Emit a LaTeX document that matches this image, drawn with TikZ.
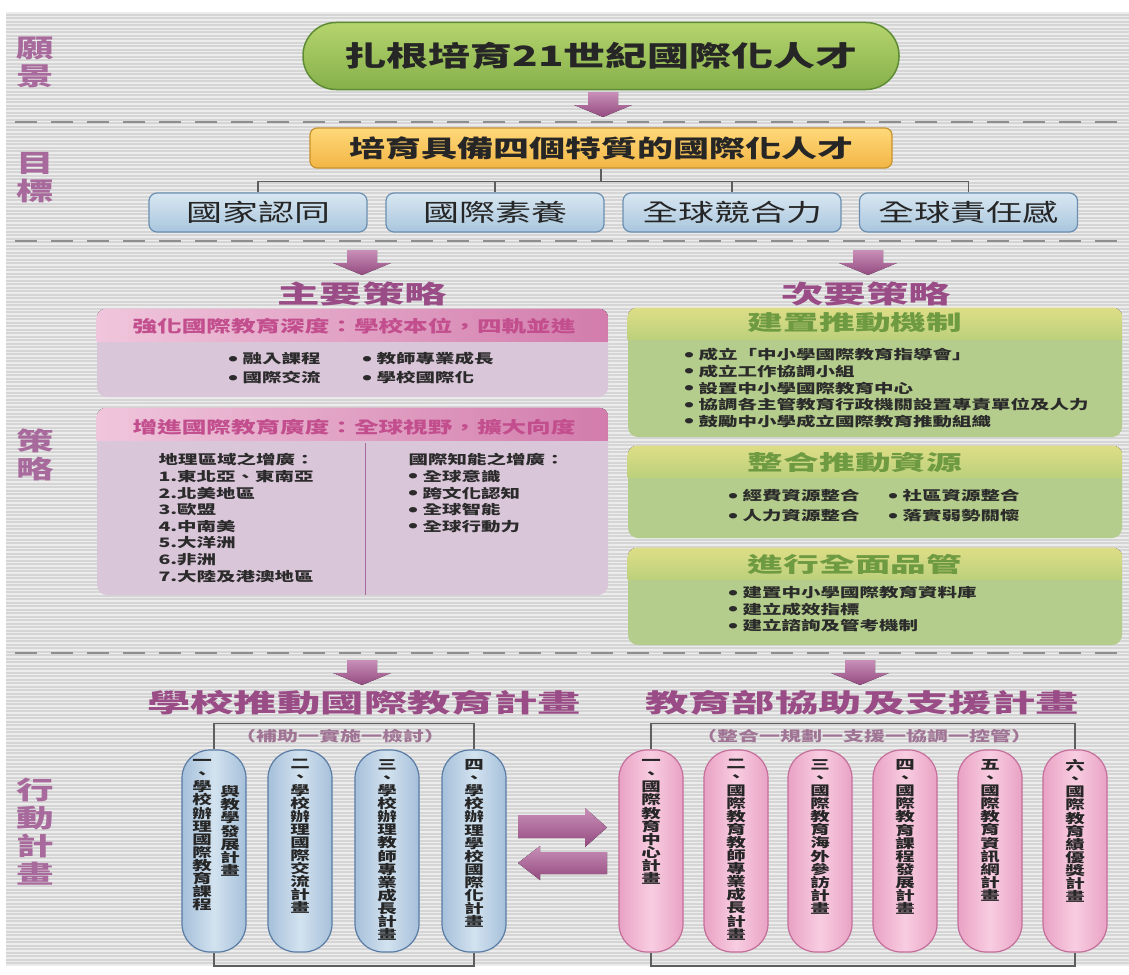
\documentclass[tikz,border=0pt]{standalone}
\usepackage{fontspec}
\setmainfont[FakeStretch=1.5]{Noto Sans CJK TC}
\newfontfamily\titlefont[FakeStretch=1.7]{Noto Sans CJK TC}
\usetikzlibrary{positioning}

\definecolor{bggray}{HTML}{D5D5D5}
\definecolor{sepgray}{HTML}{8E8E8E}
\definecolor{labelpurple}{HTML}{A86A9C}
\definecolor{titlepurple}{HTML}{9A4C86}
\definecolor{pilltop}{HTML}{B5D46E}
\definecolor{pillbot}{HTML}{86B04A}
\definecolor{pillline}{HTML}{5E8C34}
\definecolor{aimtop}{HTML}{FFD97A}
\definecolor{aimbot}{HTML}{F2B544}
\definecolor{aimline}{HTML}{C8922E}
\definecolor{traittop}{HTML}{D8E7F2}
\definecolor{traitbot}{HTML}{A9C6DD}
\definecolor{traitline}{HTML}{6B8FB0}
\definecolor{treegray}{HTML}{5E5E5E}
\definecolor{arrtop}{HTML}{C890B8}
\definecolor{arrbot}{HTML}{944A80}
\definecolor{pinkbody}{HTML}{DAC6D9}
\definecolor{pinkheadL}{HTML}{F0C6DC}
\definecolor{pinkheadR}{HTML}{D27CAC}
\definecolor{pinkink}{HTML}{C24E8E}
\definecolor{greenbody}{HTML}{B4CC8C}
\definecolor{greenheadtop}{HTML}{DEDE86}
\definecolor{greenheadbot}{HTML}{BCD07C}
\definecolor{greenink}{HTML}{6E9A42}
\definecolor{bodyink}{HTML}{2B2B2B}
\definecolor{capblue}{HTML}{A6C0DA}
\definecolor{capbluelight}{HTML}{D2E2EF}
\definecolor{capblueline}{HTML}{5A7CA4}
\definecolor{cappink}{HTML}{E9A2C4}
\definecolor{cappinklight}{HTML}{F8CDE1}
\definecolor{cappinkline}{HTML}{C46E9A}
\definecolor{bracketink}{HTML}{A07494}

\newcommand\bul{\raisebox{2.6pt}{\fontsize{6}{6}\selectfont●}\hspace{5pt}}

\tikzset{
  sidelabel/.style={text=labelpurple, font=\fontsize{25}{28}\selectfont\bfseries, align=center, inner sep=0pt},
  sepline/.style={draw=sepgray, line width=2.5pt, dash pattern=on 22pt off 14pt},
  visionpill/.style={draw=pillline, line width=1.5pt, rounded corners=33pt, top color=pilltop, bottom color=pillbot,
    minimum width=596pt, minimum height=67pt, font=\fontsize{28}{28}\selectfont\bfseries, text=black!85},
  aimbox/.style={draw=aimline, line width=1.2pt, rounded corners=7pt, top color=aimtop, bottom color=aimbot,
    minimum width=582pt, minimum height=40pt, font=\fontsize{24}{24}\selectfont\bfseries, text=black!85},
  traitbox/.style={draw=traitline, line width=1.2pt, rounded corners=8pt, top color=traittop, bottom color=traitbot,
    minimum width=218pt, minimum height=39pt, font=\fontsize{24}{24}\selectfont, text=black!85},
  tree/.style={draw=treegray, line width=1.6pt},
  stratitle/.style={text=titlepurple, font=\titlefont\fontsize{25}{25}\selectfont\bfseries, inner sep=0pt},
  plantitle/.style={text=titlepurple, font=\titlefont\fontsize{25.5}{25.5}\selectfont\bfseries, inner sep=0pt},
  pinkbox/.style={fill=pinkbody, rounded corners=10pt, minimum width=511pt},
  greenbox/.style={fill=greenbody, rounded corners=10pt, minimum width=494pt},
  pinkhead/.style={text=pinkink, font=\fontsize{16.4}{16.4}\selectfont\bfseries, inner sep=0pt},
  greenhead/.style={text=greenink, font=\titlefont\fontsize{21}{21}\selectfont\bfseries, inner sep=0pt},
  bodylist/.style={text=bodyink, font=\fontsize{13}{16.6}\selectfont\bfseries, align=left, inner sep=0pt, anchor=north west},
  bluecap/.style={draw=capblueline, line width=1.2pt, rounded corners=28pt, left color=capblue, right color=capblue,
    middle color=capbluelight, minimum width=64pt, minimum height=202pt},
  pinkcap/.style={draw=cappinkline, line width=1.2pt, rounded corners=28pt, left color=cappink, right color=cappink,
    middle color=cappinklight, minimum width=64pt, minimum height=202pt},
  captext/.style={text=black!85, font=\fontsize{13}{13.1}\selectfont\bfseries, align=center, inner sep=0pt, anchor=north},
  bracket/.style={draw=treegray, line width=1.8pt},
  bracketnote/.style={text=bracketink, font=\fontsize{14}{14}\selectfont\bfseries, inner sep=0pt},
  downarr/.pic={\fill[top color=arrtop, bottom color=arrbot] (-15,0) -- (15,0) -- (15,13) -- (29,13) -- (0,25) -- (-29,13) -- (-15,13) -- cycle;}
}

\begin{document}
\begin{tikzpicture}[x=1pt, y=-1pt, line width=1pt]
\useasboundingbox (0,0) rectangle (1129,974);
\fill[white] (0,0) rectangle (1129,974);
\fill[bggray] (6,12) rectangle (1129,966);
\foreach \yy in {13,16.5,...,965}
  \draw[white, line width=1.1pt, opacity=0.55] (6,\yy) -- (1129,\yy);

% side labels
\node[sidelabel] (lvision) at (35,62) {願\\景};
\node[sidelabel] (laim) at (35,178) {目\\標};
\node[sidelabel] (lstrat) at (35,455) {策\\略};
\node[sidelabel] (lplan) at (35,832) {行\\動\\計\\畫};

% separators
\draw[sepline] (15,122) -- (1129,122);
\draw[sepline] (15,241) -- (1129,241);
\draw[sepline] (15,653) -- (1129,653);

% vision and aim
\node[visionpill] (vision) at (601,56) {扎根培育21世紀國際化人才};
\pic at (603,92) {downarr};
\node[aimbox] (aim) at (601,148) {培育具備四個特質的國際化人才};

\node[traitbox] (t1) at (258,212.5) {國家認同};
\node[traitbox] (t2) at (495,212.5) {國際素養};
\node[traitbox] (t3) at (732,212.5) {全球競合力};
\node[traitbox] (t4) at (968.5,212.5) {全球責任感};

\draw[tree] (aim.south) -- ++(0,13) coordinate (hub);
\draw[tree] (t1.north) |- (hub) -| (t4.north);
\draw[tree] (t2.north) -- (t2.north |- hub);
\draw[tree] (t3.north) -- (t3.north |- hub);

% strategies
\pic at (362,250) {downarr};
\pic at (868,250) {downarr};
\node[stratitle] (mainstrat) at (362,294) {主要策略};
\node[stratitle] (substrat) at (866,294) {次要策略};

\node[pinkbox, minimum height=88pt] (deep) at (352.5,353) {};
\node[pinkbox, minimum height=187pt] (wide) at (352.5,501.5) {};
\node[greenbox, minimum height=129pt] (mech) at (875,372.5) {};
\node[greenbox, minimum height=92pt] (res) at (875,492) {};
\node[greenbox, minimum height=97pt] (qual) at (875,596.5) {};

\foreach \b in {deep,wide}{
  \begin{scope}
    \clip[rounded corners=10pt] (\b.north west) rectangle (\b.south east);
    \fill[left color=pinkheadL, right color=pinkheadR] (\b.north west) rectangle ([yshift=-33pt]\b.north east);
  \end{scope}
}
\foreach \b in {mech,res,qual}{
  \begin{scope}
    \clip[rounded corners=10pt] (\b.north west) rectangle (\b.south east);
    \fill[top color=greenheadtop, bottom color=greenheadbot] (\b.north west) rectangle ([yshift=-32pt]\b.north east);
  \end{scope}
}

\node[pinkhead] (deephead) at (354,326) {強化國際教育深度：學校本位，四軌並進};
\node[bodylist] (deepa) at (228,352) {\bul 融入課程\\[2.4pt]\bul 國際交流};
\node[bodylist] (deepb) at (362,352) {\bul 教師專業成長\\[2.4pt]\bul 學校國際化};

\node[pinkhead] (widehead) at (354,427) {增進國際教育廣度：全球視野，擴大向度};
\draw[draw=labelpurple, line width=1pt] (365,443) -- (365,595);
\node[bodylist] (widea) at (158,453) {地理區域之增廣：\\1.東北亞、東南亞\\2.北美地區\\3.歐盟\\4.中南美\\5.大洋洲\\6.非洲\\7.大陸及港澳地區};
\node[bodylist] (wideb) at (408,453) {國際知能之增廣：\\\bul 全球意識\\\bul 跨文化認知\\\bul 全球智能\\\bul 全球行動力};

\node[greenhead] (mechhead) at (855,323) {建置推動機制};
\node[bodylist] (mecha) at (684,348) {\bul 成立「中小學國際教育指導會」\\\bul 成立工作協調小組\\\bul 設置中小學國際教育中心\\\bul 協調各主管教育行政機關設置專責單位及人力\\\bul 鼓勵中小學成立國際教育推動組織};

\node[greenhead] (reshead) at (855,463) {整合推動資源};
\node[bodylist] (resa) at (728,489) {\bul 經費資源整合\\[3.4pt]\bul 人力資源整合};
\node[bodylist] (resb) at (888,489) {\bul 社區資源整合\\[3.4pt]\bul 落實弱勢關懷};

\node[greenhead] (qualhead) at (855,564) {進行全面品管};
\node[bodylist] (quala) at (728,586) {\bul 建置中小學國際教育資料庫\\\bul 建立成效指標\\\bul 建立諮詢及管考機制};

% action plans
\pic at (362,660) {downarr};
\pic at (860,660) {downarr};
\node[plantitle] (schoolplan) at (364,703) {學校推動國際教育計畫};
\node[plantitle] (moeplan) at (862,703) {教育部協助及支援計畫};

\foreach \i/\cx in {1/214,2/300,3/387,4/474}
  \node[bluecap] (s\i) at (\cx,851) {};
\foreach \i/\cx in {1/651,2/736,3/820,4/905,5/990,6/1075}
  \node[pinkcap] (m\i) at (\cx,851) {};

\draw[bracket] (s1.north) -- ++(0,-26) -| (s4.north);
\draw[bracket] (s1.south) -- ++(0,13) -| (s4.south);
\draw[bracket] (m1.north) -- ++(0,-26) -| (m6.north);
\draw[bracket] (m1.south) -- ++(0,13) -| (m6.south);
\node[bracketnote] (schoolnote) at (340,736) {（補助一實施一檢討）};
\node[bracketnote] (moenote) at (864,736) {（整合一規劃一支援一協調一控管）};

\node[captext] (s1a) at (202,759) {一\\、\\學\\校\\辦\\理\\國\\際\\教\\育\\課\\程};
\node[captext] (s1b) at (230,785.2) {與\\教\\學\\發\\展\\計\\畫};
\node[captext] (s2t) at (300,759) {二\\、\\學\\校\\辦\\理\\國\\際\\交\\流\\計\\畫};
\node[captext] (s3t) at (387,759) {三\\、\\學\\校\\辦\\理\\教\\師\\專\\業\\成\\長\\計\\畫};
\node[captext] (s4t) at (474,759) {四\\、\\學\\校\\辦\\理\\學\\校\\國\\際\\化\\計\\畫};

\node[captext] (m1t) at (651,759) {一\\、\\國\\際\\教\\育\\中\\心\\計\\畫};
\node[captext] (m2t) at (736,759) {二\\、\\國\\際\\教\\育\\教\\師\\專\\業\\成\\長\\計\\畫};
\node[captext] (m3t) at (820,759) {三\\、\\國\\際\\教\\育\\海\\外\\參\\訪\\計\\畫};
\node[captext] (m4t) at (905,759) {四\\、\\國\\際\\教\\育\\課\\程\\發\\展\\計\\畫};
\node[captext] (m5t) at (990,759) {五\\、\\國\\際\\教\\育\\資\\訊\\網\\計\\畫};
\node[captext] (m6t) at (1075,759) {六\\、\\國\\際\\教\\育\\績\\優\\獎\\計\\畫};

% exchange arrows
\fill[top color=arrtop, bottom color=arrbot] (518,815) -- (585,815) -- (585,808) -- (607,827.5) -- (585,847) -- (585,838) -- (518,838) -- cycle;
\fill[top color=arrtop, bottom color=arrbot] (607,852) -- (540,852) -- (540,846) -- (518,863) -- (540,880) -- (540,874) -- (607,874) -- cycle;
\end{tikzpicture}
\end{document}
